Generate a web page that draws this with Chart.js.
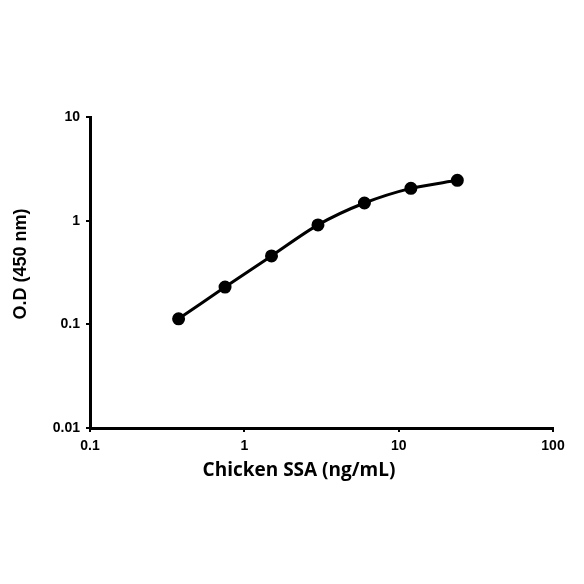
<!DOCTYPE html>
<html>
<head>
<meta charset="utf-8">
<script src="https://cdn.jsdelivr.net/npm/chart.js@4/dist/chart.umd.min.js"></script>
<style>
  html, body { margin: 0; padding: 0; background: #fff; }
  #wrap { position: relative; width: 584px; height: 584px; }
</style>
</head>
<body>
<div id="wrap"><canvas id="chart"></canvas></div>
<script>
// concentrations (ng/mL) and O.D readings
const concentrations = [0.375, 0.75, 1.5, 3, 6, 12, 24];
const odValues = [0.113, 0.229, 0.457, 0.91, 1.48, 2.05, 2.45];
const xTicks = [0.1, 1, 10, 100];
const yTicks = [0.01, 0.1, 1, 10];
const xTitle = 'Chicken SSA (ng/mL)';
const yTitle = 'O.D (450 nm)';

const points = concentrations.map((c, i) => ({ x: c, y: odValues[i] }));

// axis titles sit a bit off-centre in the original, so draw them by hand
const axisTitles = {
  id: 'axisTitles',
  afterDraw(chart) {
    const c = chart.ctx;
    c.save();
    c.fillStyle = '#000';
    c.textAlign = 'center';
    c.textBaseline = 'middle';
    c.font = 'bold 19px "Open Sans"';
    c.fillText(xTitle, 299, 471);
    c.translate(21, 264);
    c.rotate(-Math.PI / 2);
    c.font = 'bold 18px "Liberation Sans"';
    c.fillText(yTitle, 0, 0);
    c.restore();
  }
};

const ctx = document.getElementById('chart').getContext('2d');
new Chart(ctx, {
  type: 'line',
  data: {
    datasets: [{
      data: points,
      borderColor: '#000',
      backgroundColor: '#000',
      borderWidth: 3,
      pointRadius: 5,
      pointHoverRadius: 5,
      tension: 0.3,
      fill: false
    }]
  },
  plugins: [axisTitles],
  options: {
    responsive: true,
    maintainAspectRatio: false,
    animation: false,
    layout: { padding: { top: 117, right: 31, bottom: 96, left: 0 } },
    plugins: { legend: { display: false }, tooltip: { enabled: false } },
    scales: {
      x: {
        type: 'logarithmic',
        min: 0.1,
        max: 100,
        afterBuildTicks: (axis) => { axis.ticks = xTicks.map(v => ({ value: v })); },
        afterFit: (axis) => { axis.height = 60; },
        border: { display: true, color: '#000', width: 3 },
        grid: { drawOnChartArea: false, drawTicks: true, tickLength: 4, color: '#000', lineWidth: 2 },
        ticks: {
          color: '#000',
          padding: 6,
          maxRotation: 0,
          font: { family: 'Liberation Sans', size: 14, weight: 'bold' },
          callback: (v) => String(v)
        }
      },
      y: {
        type: 'logarithmic',
        min: 0.01,
        max: 10,
        afterBuildTicks: (axis) => { axis.ticks = yTicks.map(v => ({ value: v })); },
        afterFit: (axis) => { axis.width = 90; },
        border: { display: true, color: '#000', width: 3 },
        grid: { drawOnChartArea: false, drawTicks: true, tickLength: 4, color: '#000', lineWidth: 2 },
        ticks: {
          color: '#000',
          padding: 6,
          font: { family: 'Liberation Sans', size: 14, weight: 'bold' },
          callback: (v) => String(v)
        }
      }
    }
  }
});
</script>
</body>
</html>
